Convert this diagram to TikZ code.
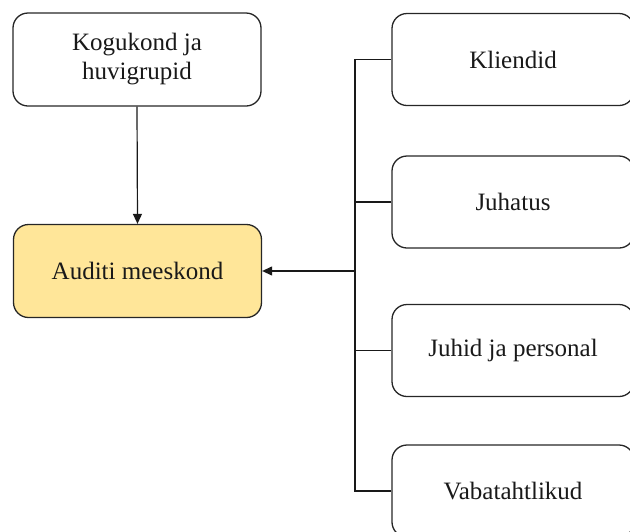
\documentclass[tikz,border=0pt]{standalone}
\usepackage{fontspec}
\setmainfont{Liberation Serif}
\usetikzlibrary{arrows.meta}
\definecolor{gold}{HTML}{FFE699}
\tikzset{
  box/.style={draw=black!85, line width=1.3pt, rounded corners=15pt, inner sep=0pt,
    align=center, text=black!90, font=\fontsize{25}{29}\selectfont},
  lbox/.style={box, minimum width=248pt, minimum height=93pt},
  rbox/.style={box, minimum width=242pt, minimum height=92pt},
  conn/.style={draw=black!90, line width=1.2pt},
  arr/.style={conn, -{Triangle[length=10pt,width=9pt]}}
}
\begin{document}
\begin{tikzpicture}[x=1pt,y=-1pt]
\useasboundingbox (0,0) rectangle (630,531);
\clip (0,0) rectangle (630,531);
\node[lbox] (g) at (137,59.5) {Kogukond ja\\huvigrupid};
\node[lbox, fill=gold] (a) at (137.5,271) {Auditi meeskond};
\node[rbox] (k) at (513,59.5) {Kliendid};
\node[rbox] (j) at (513,202) {Juhatus};
\node[rbox] (p) at (513,350.5) {Juhid ja personal};
\node[rbox] (v) at (513,491) {Vabatahtlikud};
\coordinate (t1) at (355,59.5);
\coordinate (t2) at (355,202);
\coordinate (t3) at (355,350.5);
\coordinate (t4) at (355,491);
\coordinate (ta) at (355,271);
\draw[conn] (k.west) -- (t1) -- (t4) -- (v.west);
\draw[conn] (j.west) -- (t2);
\draw[conn] (p.west) -- (t3);
\draw[arr] (ta) -- (a.east);
\draw[arr] (g.south) -- (a.north);
\end{tikzpicture}
\end{document}
